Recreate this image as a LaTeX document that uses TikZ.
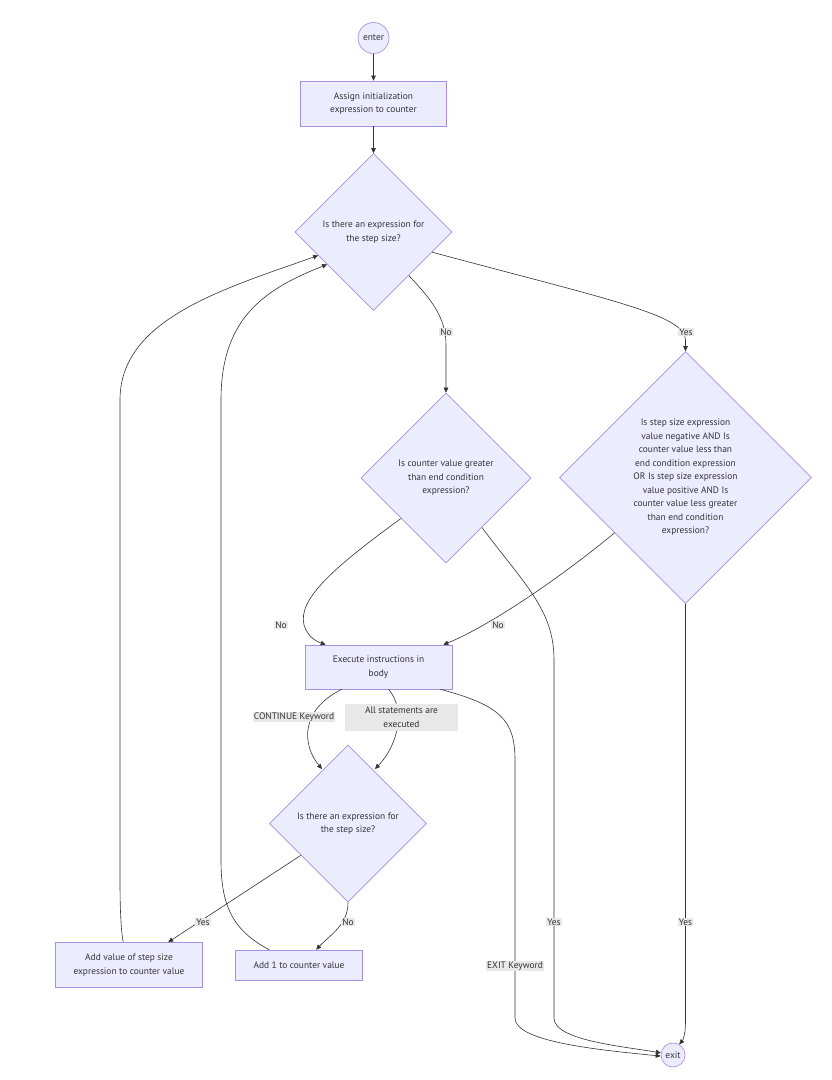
\documentclass[tikz,border=0pt]{standalone}
\usepackage{fontspec}
\setmainfont{PT Sans}
\usetikzlibrary{shapes.geometric,arrows.meta,calc}
\definecolor{nodefill}{HTML}{ECECFF}
\definecolor{nodedraw}{HTML}{9370DB}
\definecolor{linec}{HTML}{333333}
\definecolor{lblgray}{HTML}{E8E8E8}
\definecolor{txt}{HTML}{333333}
\begin{document}
\begin{tikzpicture}[x=1pt,y=-1pt,
  font=\fontsize{9.4}{13.5}\selectfont, text=txt,
  base/.style={fill=nodefill,draw=nodedraw!80!white,line width=0.65pt,align=center,inner sep=0pt},
  boxnode/.style={base,rectangle},
  decision/.style={base,diamond,aspect=1},
  term/.style={base,circle},
  lbl/.style={fill=lblgray,inner sep=1pt,align=center,text=txt},
  conn/.style={draw=linec,line width=0.6pt,-{Triangle[length=5pt,width=4.5pt]}}]
\useasboundingbox[fill=white] (0,0) rectangle (832,1080);

% nodes
\node[term,minimum size=31pt] (enter) at (373.5,38) {enter};
\node[boxnode,minimum width=146pt,minimum height=45pt] (assign) at (373.5,103.5) {Assign initialization\\expression to counter};
\node[decision,minimum size=157pt] (d1) at (373.5,232) {Is there an expression for\\the step size?};
\node[decision,minimum size=170pt] (d2) at (446,478) {Is counter value greater\\than end condition\\expression?};
\node[decision,minimum size=252pt] (d3) at (685.5,477.5) {Is step size expression\\value negative AND Is\\counter value less than\\end condition expression\\OR Is step size expression\\value positive AND Is\\counter value less greater\\than end condition\\expression?};
\node[boxnode,minimum width=147pt,minimum height=44pt] (exe) at (378.5,667) {Execute instructions in\\body};
\node[decision,minimum size=157pt] (d4) at (348,823.5) {Is there an expression for\\the step size?};
\node[boxnode,minimum width=147pt,minimum height=45pt] (addv) at (129,965) {Add value of step size\\expression to counter value};
\node[boxnode,minimum width=127pt,minimum height=30pt] (addone) at (299,965) {Add 1 to counter value};
\node[term,minimum size=24pt] (exit) at (673,1055) {exit};

% connectors
\draw[conn] (enter) -- (assign);
\draw[conn] (assign) -- (d1);
\draw[conn] (d1.-51) .. controls (432,300) and (446,318) .. (446,345) -- (d2.north);
\draw[conn] (d1.-19) .. controls (610,300) and (685.5,315) .. (685.5,340) -- (d3.north);
\draw[conn] (d2.-138) .. controls (330,570) and (298,600) .. (304,625) .. controls (308,638) and (318,642) .. ($(exe.north west)+(21,0)$);
\draw[conn] (d3.-142) .. controls (545,590) and (480,630) .. ($(exe.north east)+(-9,0)$);
\draw[conn] (d2.-54) .. controls (525,585) and (554,610) .. (554,660) -- (554,1018) .. controls (554,1040) and (620,1046) .. (exit.170);
\draw[conn] (d3.south) -- (685.5,1022) .. controls (685.5,1034) and (683,1040) .. (exit.60);
\draw[conn] ($(exe.south west)+(37,0)$) .. controls (300,710) and (302,745) .. (322,769);
\draw[conn] ($(exe.south west)+(84,0)$) .. controls (406,710) and (398,745) .. (375,769);
\draw[conn] ($(exe.south east)+(-12,0)$) .. controls (500,705) and (515,720) .. (515,760) -- (515,1018) .. controls (515,1042) and (600,1050) .. (exit.185);
\draw[conn] (d4.-146) -- ($(addv.north west)+(113,0)$);
\draw[conn] (d4.south) .. controls (348,925) and (330,935) .. ($(addone.north west)+(81,0)$);
\draw[conn] ($(addv.north west)+(68,0)$) .. controls (121,930) and (120,910) .. (120,880) -- (120,400) .. controls (120,320) and (220,290) .. (d1.-157);
\draw[conn] ($(addone.north west)+(34,0)$) .. controls (232,930) and (221,905) .. (221,860) -- (221,400) .. controls (221,320) and (262,290) .. (d1.-145);

% labels
\node[lbl] (l1) at (446,332) {No};
\node[lbl] (l2) at (686,332) {Yes};
\node[lbl] (l3) at (281,625) {No};
\node[lbl] (l4) at (498,625) {No};
\node[lbl] (l5) at (294,717) {CONTINUE Keyword};
\node[lbl,minimum width=113pt,minimum height=27pt,inner sep=0pt] (l6) at (401.5,717) {All statements are\\executed};
\node[lbl] (l7) at (203,922) {Yes};
\node[lbl] (l8) at (348,922) {No};
\node[lbl] (l9) at (554,922) {Yes};
\node[lbl] (l10) at (685.5,922) {Yes};
\node[lbl] (l11) at (515,966) {EXIT Keyword};
\end{tikzpicture}
\end{document}
